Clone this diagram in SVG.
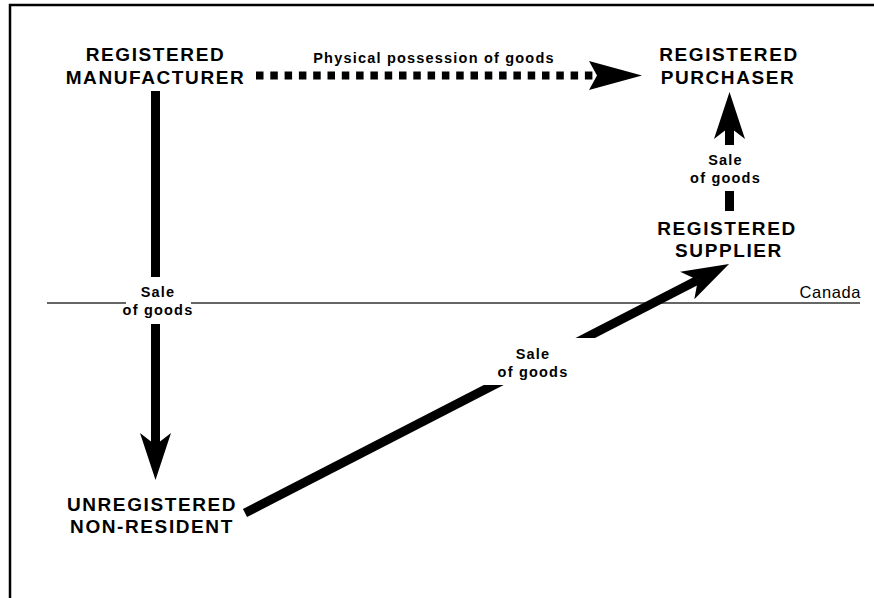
<svg xmlns="http://www.w3.org/2000/svg" width="874" height="598" viewBox="0 0 874 598">
<style>
.node{font-family:"Liberation Sans",Arial,sans-serif;font-weight:bold;font-size:19px;letter-spacing:1.6px;fill:#000;text-anchor:middle}
.lbl{font-family:"Liberation Sans",Arial,sans-serif;font-weight:bold;font-size:14.5px;letter-spacing:1.2px;fill:#000;text-anchor:middle}
.shaft{stroke:#000;stroke-width:9;fill:none;marker-end:url(#head)}
.bg{fill:#fff}
</style>
<defs>
<marker id="head" viewBox="-48 -16 48 32" refX="-35" refY="0" markerWidth="48" markerHeight="32" markerUnits="userSpaceOnUse" orient="auto">
<path d="M0,0 L-47,-15.5 L-35,0 L-47,15.5 Z" fill="#000"/>
</marker>
<marker id="headDot" viewBox="-54 -16 54 32" refX="-45" refY="0" markerWidth="54" markerHeight="32" markerUnits="userSpaceOnUse" orient="auto">
<path d="M0,0 L-53,-14.5 L-45,0 L-53,14.5 Z" fill="#000"/>
</marker>
</defs>
<rect width="874" height="598" fill="#fff"/>
<path d="M10,598 V5 H874" fill="none" stroke="#000" stroke-width="2.5"/>
<g id="border-canada">
<line x1="47" y1="303" x2="860" y2="303" stroke="#333" stroke-width="1.3"/>
<text x="861" y="298" font-family="'Liberation Sans',Arial,sans-serif" font-size="16.5" letter-spacing="0.6" text-anchor="end" fill="#000">Canada</text>
</g>
<g id="connectors">
<line x1="256" y1="75.5" x2="597" y2="75.5" stroke="#000" stroke-width="8" stroke-dasharray="7.5 6.8" marker-end="url(#headDot)"/>
<line class="shaft" x1="155.5" y1="91" x2="155.5" y2="445"/>
<line class="shaft" x1="729.5" y1="211" x2="729.5" y2="127"/>
<line class="shaft" x1="245" y1="513" x2="697.9" y2="280"/>
</g>
<g id="labels">
<rect class="bg" x="126" y="277" width="65" height="47"/>
<text class="lbl" x="158" y="297">Sale</text>
<text class="lbl" x="158" y="315">of goods</text>
<rect class="bg" x="688" y="145" width="78" height="46"/>
<text class="lbl" x="725.5" y="165">Sale</text>
<text class="lbl" x="725.5" y="183">of goods</text>
<rect class="bg" x="478" y="338" width="128" height="47"/>
<text class="lbl" x="533" y="359">Sale</text>
<text class="lbl" x="533" y="377">of goods</text>
<text class="lbl" x="434" y="63">Physical possession of goods</text>
</g>
<g id="registered-manufacturer">
<text class="node" x="155.5" y="61">REGISTERED</text>
<text class="node" x="155.5" y="84">MANUFACTURER</text>
</g>
<g id="registered-purchaser">
<text class="node" x="729" y="61">REGISTERED</text>
<text class="node" x="728" y="84">PURCHASER</text>
</g>
<g id="registered-supplier">
<text class="node" x="727" y="235">REGISTERED</text>
<text class="node" x="729" y="257">SUPPLIER</text>
</g>
<g id="unregistered-non-resident">
<text class="node" x="152" y="511">UNREGISTERED</text>
<text class="node" x="152" y="533">NON-RESIDENT</text>
</g>
</svg>
